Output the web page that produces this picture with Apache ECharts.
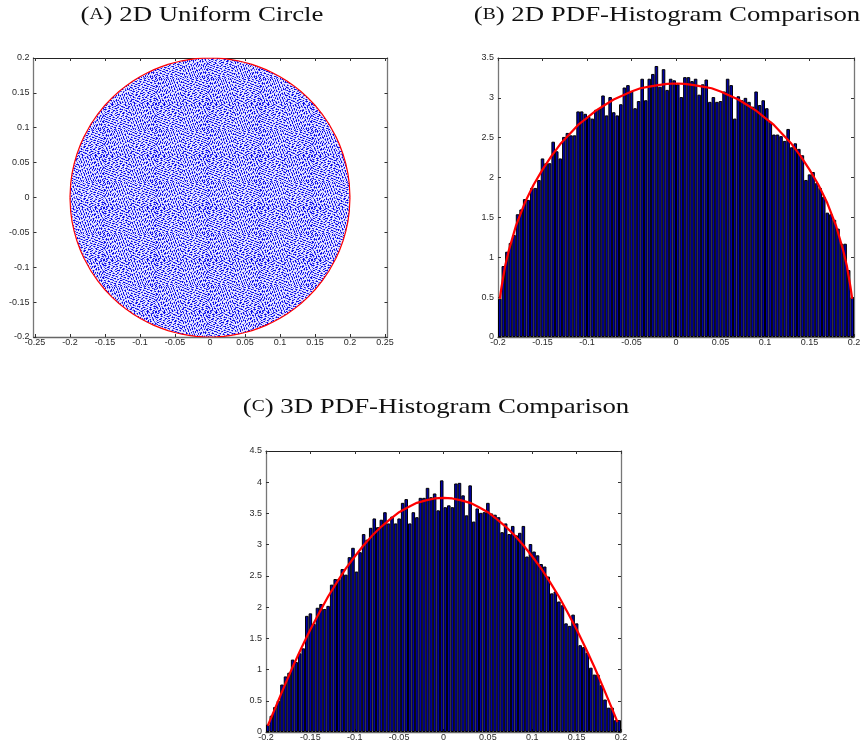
<!DOCTYPE html>
<html><head><meta charset="utf-8">
<style>html,body{margin:0;padding:0;background:#fff}#c{width:866px;height:747px}</style>
<script src="https://cdn.jsdelivr.net/npm/echarts@6/dist/echarts.min.js"></script>
</head><body><div id="c"></div>
<script>
// Tick labels
const ticksAX = [-0.25,-0.2,-0.15,-0.1,-0.05,0,0.05,0.1,0.15,0.2,0.25];
const ticksAY = [-0.2,-0.15,-0.1,-0.05,0,0.05,0.1,0.15,0.2];
const ticksHistX = [-0.2,-0.15,-0.1,-0.05,0,0.05,0.1,0.15,0.2];
const ticksBY = [0,0.5,1,1.5,2,2.5,3,3.5];
const ticksCY = [0,0.5,1,1.5,2,2.5,3,3.5,4,4.5];

// Panel A: circle boundary (radius 0.2)
const circleUpper = [[-0.2,0],[-0.199,0.02],[-0.197,0.0345],[-0.194,0.0486],[-0.19,0.0624],[-0.185,0.076],[-0.18,0.0872],[-0.17,0.1054],[-0.16,0.12],[-0.15,0.1323],[-0.14,0.1428],[-0.13,0.152],[-0.12,0.16],[-0.11,0.167],[-0.1,0.1732],[-0.09,0.1786],[-0.08,0.1833],[-0.07,0.1873],[-0.06,0.1908],[-0.05,0.1936],[-0.04,0.196],[-0.03,0.1977],[-0.02,0.199],[-0.01,0.1997],[0,0.2],[0.01,0.1997],[0.02,0.199],[0.03,0.1977],[0.04,0.196],[0.05,0.1936],[0.06,0.1908],[0.07,0.1873],[0.08,0.1833],[0.09,0.1786],[0.1,0.1732],[0.11,0.167],[0.12,0.16],[0.13,0.152],[0.14,0.1428],[0.15,0.1323],[0.16,0.12],[0.17,0.1054],[0.18,0.0872],[0.185,0.076],[0.19,0.0624],[0.194,0.0486],[0.197,0.0345],[0.199,0.02],[0.2,0]];
const circleLower = [[-0.2,0],[-0.199,-0.02],[-0.197,-0.0345],[-0.194,-0.0486],[-0.19,-0.0624],[-0.185,-0.076],[-0.18,-0.0872],[-0.17,-0.1054],[-0.16,-0.12],[-0.15,-0.1323],[-0.14,-0.1428],[-0.13,-0.152],[-0.12,-0.16],[-0.11,-0.167],[-0.1,-0.1732],[-0.09,-0.1786],[-0.08,-0.1833],[-0.07,-0.1873],[-0.06,-0.1908],[-0.05,-0.1936],[-0.04,-0.196],[-0.03,-0.1977],[-0.02,-0.199],[-0.01,-0.1997],[0,-0.2],[0.01,-0.1997],[0.02,-0.199],[0.03,-0.1977],[0.04,-0.196],[0.05,-0.1936],[0.06,-0.1908],[0.07,-0.1873],[0.08,-0.1833],[0.09,-0.1786],[0.1,-0.1732],[0.11,-0.167],[0.12,-0.16],[0.13,-0.152],[0.14,-0.1428],[0.15,-0.1323],[0.16,-0.12],[0.17,-0.1054],[0.18,-0.0872],[0.185,-0.076],[0.19,-0.0624],[0.194,-0.0486],[0.197,-0.0345],[0.199,-0.02],[0.2,0]];

// Histogram bin centres (100 bins, width 0.004)
const binCentres = [-0.198,-0.194,-0.19,-0.186,-0.182,-0.178,-0.174,-0.17,-0.166,-0.162,-0.158,-0.154,-0.15,-0.146,-0.142,-0.138,-0.134,-0.13,-0.126,-0.122,-0.118,-0.114,-0.11,-0.106,-0.102,-0.098,-0.094,-0.09,-0.086,-0.082,-0.078,-0.074,-0.07,-0.066,-0.062,-0.058,-0.054,-0.05,-0.046,-0.042,-0.038,-0.034,-0.03,-0.026,-0.022,-0.018,-0.014,-0.01,-0.006,-0.002,0.002,0.006,0.01,0.014,0.018,0.022,0.026,0.03,0.034,0.038,0.042,0.046,0.05,0.054,0.058,0.062,0.066,0.07,0.074,0.078,0.082,0.086,0.09,0.094,0.098,0.102,0.106,0.11,0.114,0.118,0.122,0.126,0.13,0.134,0.138,0.142,0.146,0.15,0.154,0.158,0.162,0.166,0.17,0.174,0.178,0.182,0.186,0.19,0.194,0.198];

// Panel B heights
const histB = [0.48,0.89,1.07,1.18,1.28,1.54,1.6,1.73,1.72,1.87,1.87,1.97,2.24,2.18,2.18,2.45,2.33,2.24,2.51,2.56,2.53,2.53,2.83,2.83,2.8,2.76,2.74,2.85,2.87,3.03,2.78,3.01,2.82,2.78,2.92,3.13,3.16,3.08,2.87,2.96,3.24,2.97,3.24,3.3,3.4,3.14,3.36,3.1,3.24,3.22,3.17,3.01,3.26,3.26,3.21,3.24,3.04,3.17,3.23,2.95,3.01,2.95,2.96,3.08,3.24,3.16,2.74,3.02,2.97,3,2.95,2.89,3.08,2.91,2.97,2.87,2.7,2.54,2.54,2.52,2.46,2.61,2.38,2.43,2.36,2.28,1.97,2.04,2.07,1.93,1.87,1.76,1.56,1.54,1.47,1.36,1.17,1.17,0.84,0.5];
const curveB = [[-0.198,0.48],[-0.196,0.63],[-0.192,0.89],[-0.188,1.08],[-0.18,1.39],[-0.17,1.68],[-0.16,1.91],[-0.15,2.1],[-0.14,2.27],[-0.13,2.42],[-0.12,2.54],[-0.11,2.66],[-0.1,2.75],[-0.09,2.84],[-0.08,2.91],[-0.07,2.98],[-0.06,3.03],[-0.05,3.08],[-0.04,3.12],[-0.03,3.14],[-0.02,3.16],[-0.01,3.175],[0,3.18],[0.01,3.175],[0.02,3.16],[0.03,3.14],[0.04,3.12],[0.05,3.08],[0.06,3.03],[0.07,2.98],[0.08,2.91],[0.09,2.84],[0.1,2.75],[0.11,2.66],[0.12,2.54],[0.13,2.42],[0.14,2.27],[0.15,2.1],[0.16,1.91],[0.17,1.68],[0.18,1.39],[0.188,1.08],[0.192,0.89],[0.196,0.63],[0.198,0.48]];

// Panel C heights
const histC = [0.12,0.26,0.4,0.5,0.76,0.89,0.95,1.16,1.12,1.26,1.34,1.86,1.9,1.73,1.99,2.05,1.97,2.02,2.36,2.45,2.45,2.61,2.52,2.8,2.95,2.57,2.88,3.17,3.08,3.27,3.42,3.28,3.4,3.52,3.34,3.45,3.34,3.42,3.67,3.73,3.34,3.52,3.44,3.75,3.75,3.91,3.76,3.82,3.55,4.03,3.6,3.63,3.6,3.98,3.99,3.79,3.47,3.95,3.37,3.58,3.51,3.52,3.67,3.5,3.48,3.44,3.2,3.34,3.17,3.3,3.15,3.19,3.3,2.81,3.01,2.89,2.83,2.69,2.65,2.49,2.22,2.25,2.09,2.03,1.74,1.7,1.88,1.74,1.39,1.36,1.27,1.03,0.92,0.92,0.75,0.52,0.39,0.39,0.19,0.19];
const curveC = [[-0.198,0.1],[-0.19,0.37],[-0.18,0.71],[-0.17,1.04],[-0.16,1.35],[-0.15,1.64],[-0.14,1.91],[-0.13,2.17],[-0.12,2.4],[-0.11,2.62],[-0.1,2.81],[-0.09,2.99],[-0.08,3.15],[-0.07,3.29],[-0.06,3.41],[-0.05,3.52],[-0.04,3.6],[-0.03,3.67],[-0.02,3.71],[-0.01,3.74],[0,3.75],[0.01,3.74],[0.02,3.71],[0.03,3.67],[0.04,3.6],[0.05,3.52],[0.06,3.41],[0.07,3.29],[0.08,3.15],[0.09,2.99],[0.1,2.81],[0.11,2.62],[0.12,2.4],[0.13,2.17],[0.14,1.91],[0.15,1.64],[0.16,1.35],[0.17,1.04],[0.18,0.71],[0.19,0.37],[0.196,0.16]];

// Panel A's individual dots cannot be read off the picture, so the disc is filled
// with a hand-typed speckle texture. It is a fill, not data marks.
const speckleTile = [
"# .+   ##+ . +#.   .+#  .#",
" +#  . .#   #+ .+    #+.  ",
".   ##+  .+#  .  ##.  . +#",
"+#.  +  #.   +#   .+#   #.",
" .  .#+   .##.  +    .##+ ",
"##+    .+   .  .#+# .   . ",
" .  +#   ## +#    . .+#  +",
"+  ##.  .+ .   .##    #. .",
" #.  . #+   +#  +  #+   ##",
".  +#   .  #.  .  ##. +.  ",
" ##  .+#  .  ###   .   #+ ",
"+  .   #+  +#  .  +#  .  .",
".#   ##  .   .+  #.  ##+  ",
"  +#.   .#+  #.    +  . #+",
"#   .+#    .#  +##   .#   ",
" .#+  . ##+   .  . +#  +. ",
"+   .#   . .#+   #+    .##",
" ##.   +#    +  .  .##   .",
".  +#.   .##   .#+   . +# ",
"  .   ##+  . +#   .#+   . ",
"#+  +   .#   .  ##.  +#.  ",
" . .##    .+#  +   .   .#+",
"+#    .+#   . .#+  ##.  . ",
" .+#  .  .##    . +  .#+  ",
"#   . +#   +  ##.  .#   +#",
".  ##   . #+.   +#   . .  "];
const tileArrangement = [[1,1,0],[-1,1,1],[1,-1,1],[-1,-1,0]];

function speckle() {
  const n = speckleTile.length, base = document.createElement('canvas');
  base.width = base.height = n;
  const b = base.getContext('2d');
  const shade = {'#':'#0808e8','+':'#4c4cf4','.':'#8e8efa',' ':'#e6e6ff'};
  speckleTile.forEach((row, y) => [...row].forEach((ch, x) => {
    b.fillStyle = shade[ch]; b.fillRect(x, y, 1, 1);
  }));
  // mirror and rotate copies so the repeat does not read as a lattice
  const cv = document.createElement('canvas');
  cv.width = cv.height = n*2;
  const g = cv.getContext('2d');
  tileArrangement.forEach(([sx,sy,rot], i) => {
    const ox = (i%2)*n + n/2, oy = (i>>1)*n + n/2;
    g.save(); g.translate(ox,oy); if (rot) g.rotate(Math.PI/2); g.scale(sx,sy);
    g.drawImage(base,-n/2,-n/2); g.restore();
  });
  return cv;
}

const FONT = '"Liberation Sans", Arial, sans-serif';
function xAxes(grid, min, max, ticks) {
  const base = {type:'value', gridIndex:grid, min, max, splitLine:{show:false}};
  return [
    {...base, position:'bottom',
     axisLine:{show:true,onZero:false,lineStyle:{color:'#666',width:1.3}},
     axisTick:{show:true,inside:true,length:3,customValues:ticks,lineStyle:{color:'#333',width:1}},
     axisLabel:{show:true,customValues:ticks,margin:1,fontSize:9,color:'#2a2a2a',fontFamily:FONT,
                hideOverlap:false,showMinLabel:true,showMaxLabel:true,formatter:v=>String(v)}},
    {...base, position:'top',
     axisLine:{show:true,onZero:false,lineStyle:{color:'#222',width:1}},
     axisTick:{show:true,inside:true,length:3,customValues:ticks,lineStyle:{color:'#333',width:1}},
     axisLabel:{show:false}}
  ];
}
function yAxes(grid, min, max, ticks) {
  const base = {type:'value', gridIndex:grid, min, max, splitLine:{show:false}};
  return [
    {...base, position:'left',
     axisLine:{show:true,onZero:false,lineStyle:{color:'#777',width:1.3}},
     axisTick:{show:true,inside:true,length:3,customValues:ticks,lineStyle:{color:'#333',width:1}},
     axisLabel:{show:true,customValues:ticks,margin:4,fontSize:9,color:'#2a2a2a',fontFamily:FONT,
                hideOverlap:false,showMinLabel:true,showMaxLabel:true,formatter:v=>String(v)}},
    {...base, position:'right',
     axisLine:{show:true,onZero:false,lineStyle:{color:'#777',width:1.3}},
     axisTick:{show:true,inside:true,length:3,customValues:ticks,lineStyle:{color:'#333',width:1}},
     axisLabel:{show:false}}
  ];
}
function titleOf(letter, rest, x, y) {
  return {type:'text', x, y, scaleX:1.22, silent:true,
    style:{text:'({sc|'+letter+'}) '+rest, align:'center', verticalAlign:'middle',
      fontFamily:'"Liberation Serif", serif', fontSize:22, fill:'#111',
      rich:{sc:{fontFamily:'"Liberation Serif", serif', fontSize:16, fill:'#111'}}}};
}
function bars(xi, yi, vals) {
  return {type:'bar', xAxisIndex:xi, yAxisIndex:yi, barWidth:3.56, silent:true,
    data: vals.map((v,i)=>[binCentres[i], v]),
    itemStyle:{color:'#0000a8', borderColor:'#000', borderWidth:1}};
}
function curve(xi, yi, pts, w, extra) {
  return Object.assign({type:'line', xAxisIndex:xi, yAxisIndex:yi, data:pts, showSymbol:false, silent:true,
    smooth:false, lineStyle:{color:'#ff0000', width:w}, itemStyle:{color:'#ff0000'}, z:5}, extra||{});
}

const chart = echarts.init(document.getElementById('c'), null, {renderer:'canvas'});
const fill = {color:{image:speckle(), repeat:'repeat'}, opacity:1, origin:'auto'};
chart.setOption({
  animation:false,
  backgroundColor:'#fff',
  graphic:[
    titleOf('A','2D Uniform Circle',202,15),
    titleOf('B','2D PDF-Histogram Comparison',667,15),
    titleOf('C','3D PDF-Histogram Comparison',436,407)
  ],
  grid:[
    {left:33.5,top:58,width:354,height:279,containLabel:false},
    {left:498,top:58,width:356,height:279,containLabel:false},
    {left:266,top:451,width:355,height:281,containLabel:false}
  ],
  xAxis:[...xAxes(0,-0.2521,0.2536,ticksAX),...xAxes(1,-0.2,0.2,ticksHistX),...xAxes(2,-0.2,0.2,ticksHistX)],
  yAxis:[...yAxes(0,-0.2,0.2,ticksAY),...yAxes(1,0,3.5,ticksBY),...yAxes(2,0,4.5,ticksCY)],
  series:[
    curve(0,0,circleUpper,1.2,{areaStyle:fill}),
    curve(0,0,circleLower,1.2,{areaStyle:fill}),
    bars(2,2,histB),
    curve(2,2,curveB,2.2),
    bars(4,4,histC),
    curve(4,4,curveC,2.2)
  ]
});
</script></body></html>
